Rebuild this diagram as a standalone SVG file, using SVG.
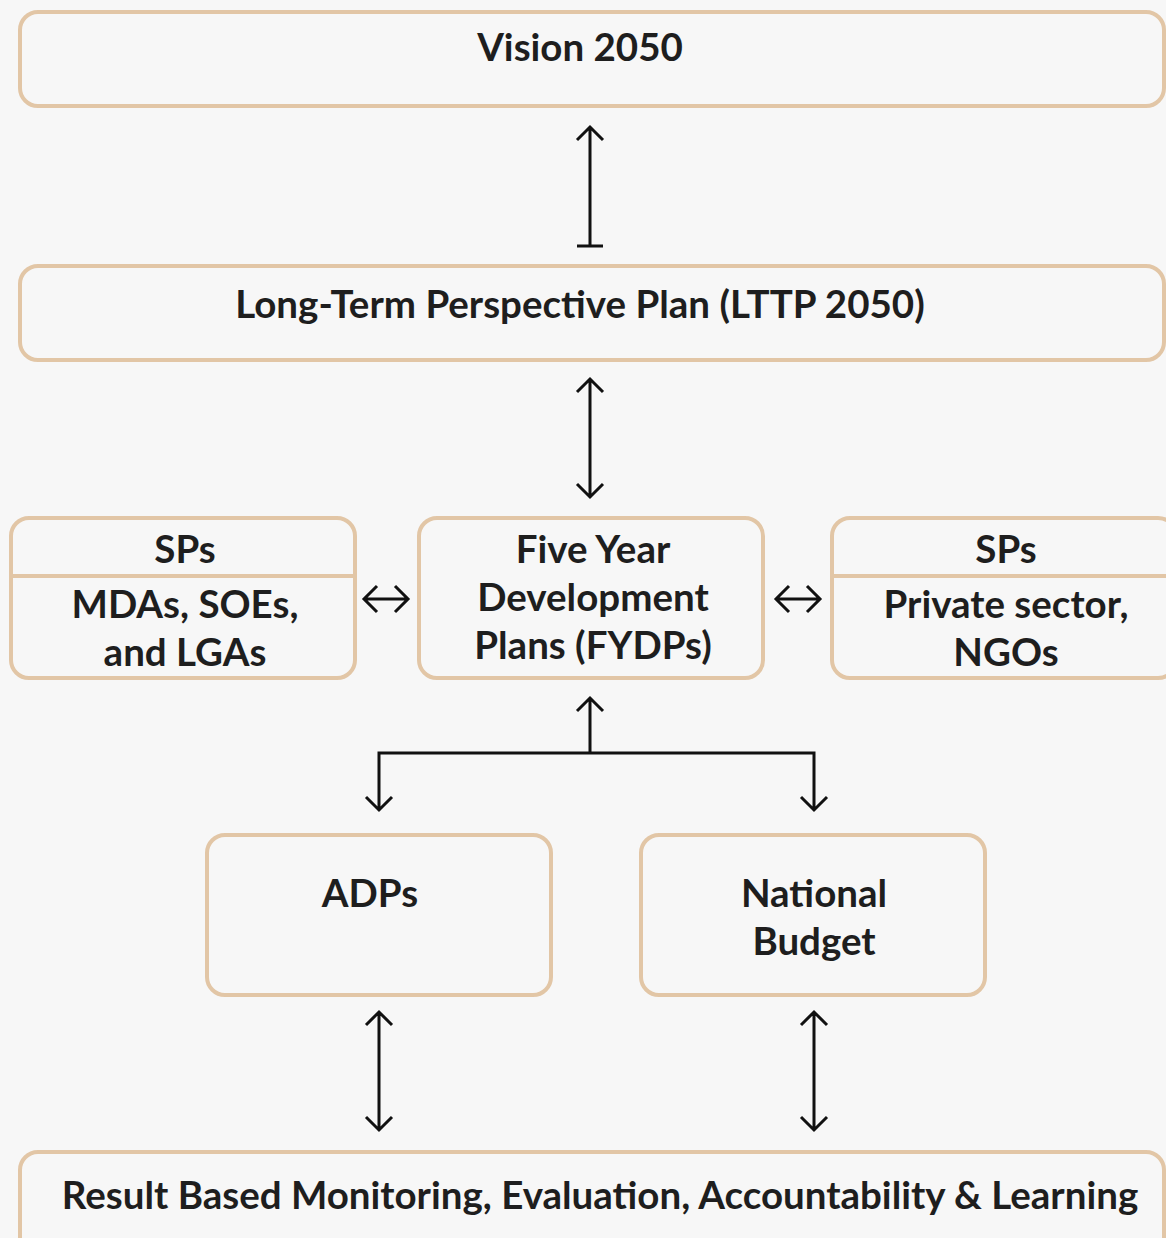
<svg xmlns="http://www.w3.org/2000/svg" width="1166" height="1238" viewBox="0 0 1166 1238">
<style>
.box{fill:#f7f7f7;stroke:#e2c6a6;stroke-width:4}
.div{stroke:#e2c6a6;stroke-width:4}
.t{font-family:Lato,"Liberation Sans",sans-serif;font-weight:700;font-size:38.5px;fill:#1e1e1e;text-anchor:middle}
.c{fill:none;stroke:#111;stroke-width:3}
</style>
<rect width="1166" height="1238" fill="#f7f7f7"/>
<g id="vision"><rect class="box" x="20" y="12" width="1144" height="94" rx="18"/><text class="t" x="580" y="61">Vision 2050</text></g>
<g id="lttp"><rect class="box" x="20" y="266" width="1144" height="94" rx="18"/><text class="t" x="580" y="318">Long-Term Perspective Plan (LTTP 2050)</text></g>
<g id="sps-left"><rect class="box" x="11" y="518" width="344" height="160" rx="18"/><line class="div" x1="11" y1="576" x2="355" y2="576"/><text class="t" x="185" y="563">SPs</text><text class="t" x="185" y="618">MDAs, SOEs,</text><text class="t" x="185" y="666">and LGAs</text></g>
<g id="fydp"><rect class="box" x="419" y="518" width="344" height="160" rx="18"/><text class="t" x="593" y="563">Five Year</text><text class="t" x="593" y="611">Development</text><text class="t" x="593" y="659">Plans (FYDPs)</text></g>
<g id="sps-right"><rect class="box" x="832" y="518" width="344" height="160" rx="18"/><line class="div" x1="832" y1="576" x2="1176" y2="576"/><text class="t" x="1006" y="563">SPs</text><text class="t" x="1006" y="618">Private sector,</text><text class="t" x="1006" y="666">NGOs</text></g>
<g id="adps"><rect class="box" x="207" y="835" width="344" height="160" rx="18"/><text class="t" x="370" y="907">ADPs</text></g>
<g id="budget"><rect class="box" x="641" y="835" width="344" height="160" rx="18"/><text class="t" x="814" y="907">National</text><text class="t" x="814" y="955">Budget</text></g>
<g id="rbme"><rect class="box" x="20" y="1152" width="1144" height="110" rx="18"/><text class="t" x="600" y="1209">Result Based Monitoring, Evaluation, Accountability &amp; Learning</text></g>
<g id="connectors">
<path class="c" d="M590 127V246M577 246H603M577 140L590 127L603 140"/>
<path class="c" d="M590 379V497M577 392L590 379L603 392M577 484L590 497L603 484"/>
<path class="c" d="M364 599H408M377 586L364 599L377 612M395 586L408 599L395 612"/>
<path class="c" d="M776 599H820M789 586L776 599L789 612M807 586L820 599L807 612"/>
<path class="c" d="M590 698V753M577 711L590 698L603 711M379 810V753H814V810M366 797L379 810L392 797M801 797L814 810L827 797"/>
<path class="c" d="M379 1012V1130M366 1025L379 1012L392 1025M366 1117L379 1130L392 1117"/>
<path class="c" d="M814 1012V1130M801 1025L814 1012L827 1025M801 1117L814 1130L827 1117"/>
</g>
</svg>
